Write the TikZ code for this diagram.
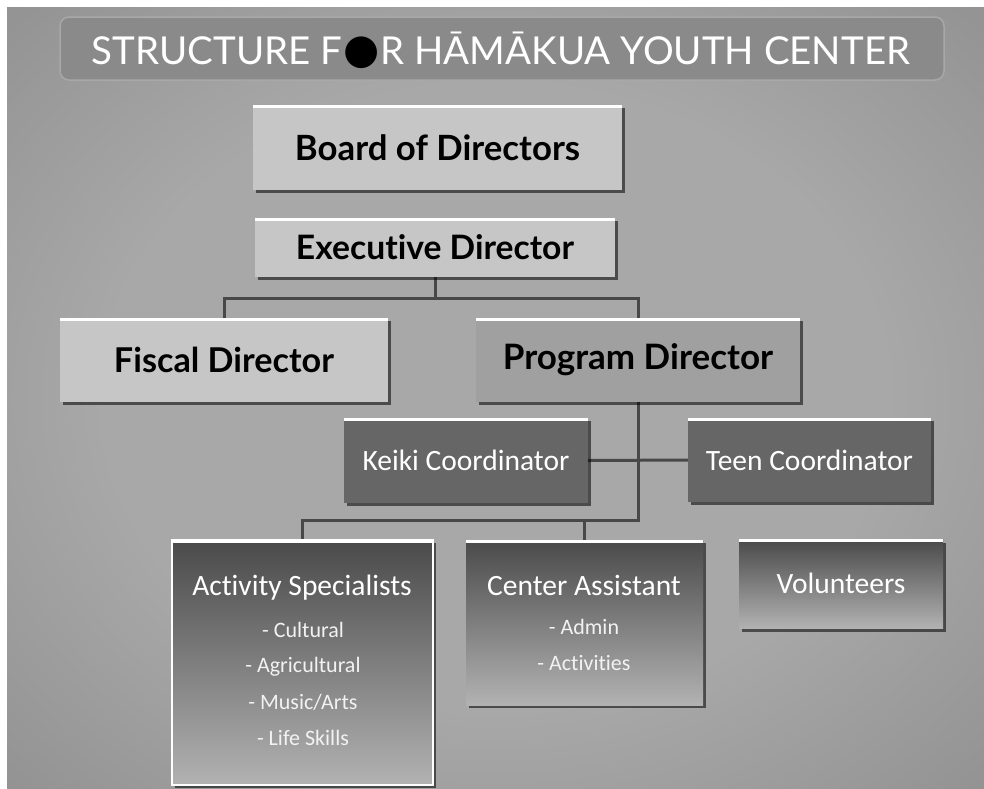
\documentclass[tikz,border=0pt]{standalone}
\usepackage{fontspec}
\setmainfont[Ligatures=NoCommon]{Carlito}
\newfontfamily\gill[Ligatures=NoCommon]{Lato}
\newfontfamily\djv{DejaVu Sans}
\usetikzlibrary{calc,shadows}
\definecolor{bgin}{HTML}{A8A8A8}
\definecolor{bgout}{HTML}{5C5C5C}
\definecolor{linec}{HTML}{484848}
\definecolor{lightfill}{HTML}{C6C6C6}
\definecolor{progfill}{HTML}{A0A0A0}
\definecolor{coordfill}{HTML}{666666}
\definecolor{lowtop}{HTML}{4A4A4A}
\definecolor{lowbot}{HTML}{B2B2B2}
\definecolor{barfill}{HTML}{8A8A8A}
\definecolor{baredge}{HTML}{A8A8A8}
\pgfdeclareradialshading{vign}{\pgfpoint{0bp}{0bp}}{color(0bp)=(bgin); color(20bp)=(bgin); color(75bp)=(bgout)}
\pgfdeclarelayer{bg}
\pgfsetlayers{bg,main}
\tikzset{
  boxbase/.style={draw=none, inner sep=0pt, outer sep=0pt,
    drop shadow={shadow xshift=3pt, shadow yshift=-3pt, fill=black, opacity=.55},
    path picture={\draw[white, line width=5pt] (path picture bounding box.north west) -- (path picture bounding box.north east);}},
  lightbox/.style={boxbase, fill=lightfill},
  progbox/.style={boxbase, fill=progfill},
  coordbox/.style={boxbase, fill=coordfill, text=white},
  lowbox/.style={boxbase, top color=lowtop, bottom color=lowbot, text=white},
  conn/.style={draw=linec, line width=3pt},
  titlebar/.style={draw=baredge, line width=1.5pt, fill=barfill, rounded corners=9pt, inner sep=0pt},
  bigtxt/.style={font=\fontsize{29.5}{30}\selectfont, text=white, inner sep=0pt},
  subtxt/.style={font=\fontsize{22}{22}\selectfont, text=white!90!gray, inner sep=0pt}
}
\newcommand{\fw}[2]{\resizebox{#1}{!}{#2}}
\begin{document}
\begin{tikzpicture}[x=1pt,y=-1pt]
\useasboundingbox (0,0) rectangle (984,788);
\begin{pgfonlayer}{bg}
\fill[white] (0,0) rectangle (984,788);
\shade[shading=vign] (7,7) rectangle (984,788);
\end{pgfonlayer}

% title
\node[titlebar, minimum width=884pt, minimum height=63pt] (tbar) at (502,48.5) {};
\node[text=white, inner sep=0pt] (ttext) at (501,50) {\fw{818pt}{\gill STRUCTURE F\hspace{0.03em}\textcolor{black}{\raisebox{0.02em}{\scalebox{1.08}{\djv ●}}}\hspace{0.03em}R HĀMĀKUA YOUTH CENTER}};

% boxes
\node[lightbox, minimum width=369pt, minimum height=85pt] (board) at (437.5,147.5) {\fw{285pt}{\gill\bfseries Board of Directors}};
\node[lightbox, minimum width=360pt, minimum height=59pt] (exec) at (435,247.5) {\fw{278pt}{\gill\bfseries Executive Director}};
\node[lightbox, minimum width=328pt, minimum height=84pt] (fiscal) at (224,360) {\fw{220pt}{\gill\bfseries Fiscal Director}};
\node[progbox, minimum width=324pt, minimum height=84pt] (prog) at (638,360) {\fw{270pt}{\gill\bfseries Program Director}};
\node[coordbox, minimum width=244pt, minimum height=85pt, font=\fontsize{29.5}{30}\selectfont] (keiki) at (466,460.5) {Keiki Coordinator};
\node[coordbox, minimum width=243pt, minimum height=84pt, font=\fontsize{29.5}{30}\selectfont] (teen) at (809.5,460) {Teen Coordinator};
\node[lowbox, minimum width=261pt, minimum height=245pt] (act) at (302.5,662.5) {};
\draw[white, line width=2pt] (act.north west) rectangle (act.south east);
\node[lowbox, minimum width=237pt, minimum height=165pt] (ctr) at (584.5,622.5) {};
\node[lowbox, minimum width=204pt, minimum height=89pt] (vol) at (841,584) {};

% texts in lower boxes
\node[bigtxt] (actT) at (302,588) {Activity Specialists};
\node[subtxt] (act1) at (303,630) {- Cultural};
\node[subtxt] (act2) at (303,667) {- Agricultural};
\node[subtxt] (act3) at (303,702) {- Music/Arts};
\node[subtxt] (act4) at (303,738) {- Life Skills};
\node[bigtxt] (ctrT) at (584,585) {Center Assistant};
\node[subtxt] (ctr1) at (584,627) {- Admin};
\node[subtxt] (ctr2) at (584,663) {- Activities};
\node[bigtxt] (volT) at (841,583) {Volunteers};

% connectors
\begin{pgfonlayer}{bg}
\draw[conn] (exec.south) -- ++(0,21) -| (fiscal.north);
\draw[conn] (exec.south) -- ++(0,21) -| (prog.north);
\draw[conn] (prog.south) -- ++(0,118) -| (act.north);
\draw[conn] (prog.south) -- ++(0,118) -| (ctr.north);
\draw[conn] (keiki.east) -- (teen.west);
\end{pgfonlayer}
\end{tikzpicture}
\end{document}
